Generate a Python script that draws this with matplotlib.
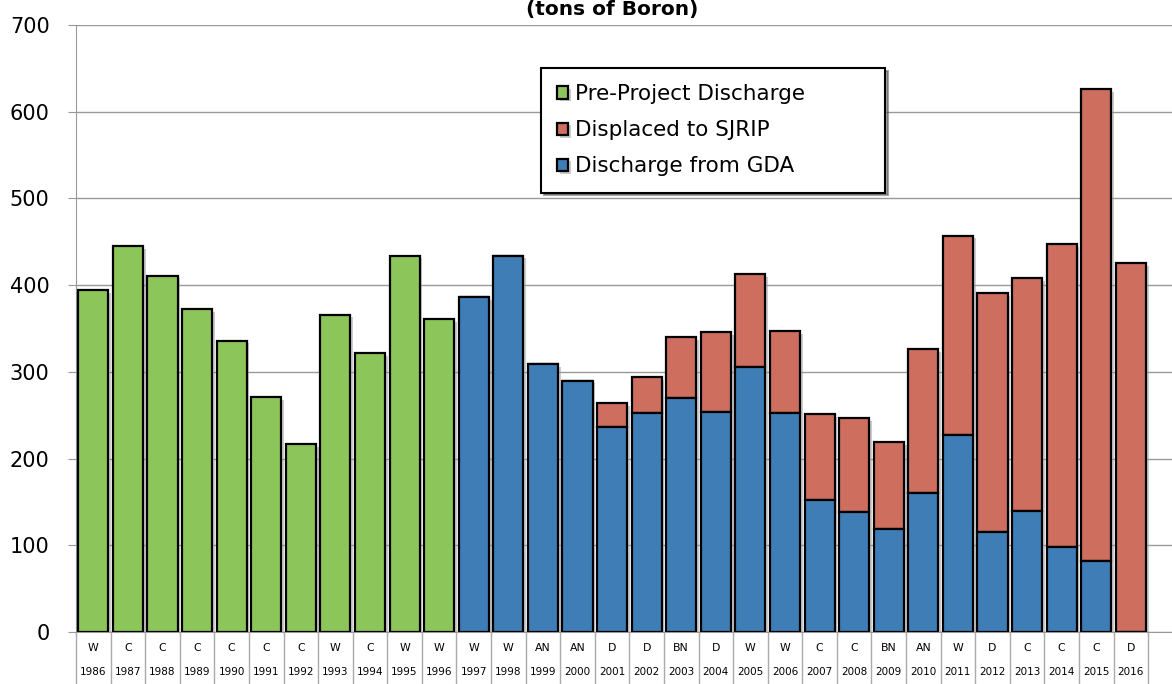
import matplotlib.pyplot as plt
import matplotlib.transforms as mtransforms
import matplotlib.patheffects as pe
import numpy as np

years = list(range(1986, 2017))
year_types = ['W', 'C', 'C', 'C', 'C', 'C', 'C', 'W', 'C', 'W', 'W',
              'W', 'W', 'AN', 'AN', 'D', 'D', 'BN', 'D', 'W', 'W',
              'C', 'C', 'BN', 'AN', 'W', 'D', 'C', 'C', 'C', 'D']

# tons of boron
pre_project = [394, 445, 411, 372, 336, 271, 217, 366, 322, 434, 361,
               0, 0, 0, 0, 0, 0, 0, 0, 0, 0,
               0, 0, 0, 0, 0, 0, 0, 0, 0, 0]
gda = [0, 0, 0, 0, 0, 0, 0, 0, 0, 0, 0,
       386, 434, 309, 290, 236, 253, 270, 254, 306, 253,
       152, 138, 119, 160, 227, 115, 140, 98, 82, 0]
sjrip = [0, 0, 0, 0, 0, 0, 0, 0, 0, 0, 0,
         0, 0, 0, 0, 28, 41, 70, 92, 107, 94,
         99, 109, 100, 166, 230, 276, 268, 349, 544, 425]

green = '#8cc65a'
red = '#cd6e5f'
blue = '#3f7db6'

plt.rcParams['font.family'] = ['DejaVu Sans']

fig = plt.figure(figsize=(11.72, 6.84), dpi=100)
ax = fig.add_axes([76 / 1172, 1 - 632 / 684, 1 - 76 / 1172, 607 / 684])

x = np.arange(len(years))
w = 0.87
shadow = [pe.SimplePatchShadow(offset=(2, -2), shadow_rgbFace='#999999', alpha=0.5), pe.Normal()]
b1 = ax.bar(x[:11], pre_project[:11], w, color=green, edgecolor='black', linewidth=1.6,
            label='Pre-Project Discharge', zorder=3)
b2 = ax.bar(x[11:], sjrip[11:], w, bottom=gda[11:], color=red, edgecolor='black', linewidth=1.6,
            label='Displaced to SJRIP', zorder=3)
b3 = ax.bar(x[11:], gda[11:], w, color=blue, edgecolor='black', linewidth=1.6,
            label='Discharge from GDA', zorder=3)
for bars in (b1, b2, b3):
    for p in bars:
        p.set_path_effects(shadow)

ax.set_ylim(0, 700)
ax.set_xlim(-0.5, 31.19)
ax.set_yticks(range(0, 701, 100))
ax.tick_params(axis='y', labelsize=15, length=6, color='#999999', pad=13)
ax.set_xticks([])
ax.grid(axis='y', color='#999999', linewidth=1, zorder=0)
for s in ['top', 'right']:
    ax.spines[s].set_visible(False)
ax.spines['left'].set_color('#999999')
ax.spines['bottom'].set_color('#999999')

# category table under the axis
trans = mtransforms.blended_transform_factory(ax.transData, ax.transAxes)
for i in range(len(years) + 1):
    ax.plot([i - 0.5, i - 0.5], [0, -0.09], transform=trans, color='#aaaaaa',
            linewidth=1, clip_on=False)
for i, (yr, t) in enumerate(zip(years, year_types)):
    ax.text(i, -0.027, t, transform=trans, ha='center', va='center', fontsize=7.8)
    ax.text(i, -0.066, str(yr), transform=trans, ha='center', va='center', fontsize=7.5)

lx = (541 - 76) / 1096
ly = (632 - 190) / 607
leg = ax.legend(loc='upper left', bbox_to_anchor=(lx, ly, 344 / 1096, 122 / 607),
                mode='expand', fontsize=15.5, frameon=True, fancybox=False, shadow=True,
                handlelength=0.5, handleheight=0.5, handletextpad=0.35,
                borderpad=0.75, labelspacing=0.75, borderaxespad=0)
leg.get_frame().set_edgecolor('black')
leg.get_frame().set_linewidth(1.5)

fig.text(612 / 1172, 1 - 10 / 684, '(tons of Boron)', ha='center', va='center',
         fontsize=14.5, fontweight='bold')

fig.savefig('out.png', dpi=100)
